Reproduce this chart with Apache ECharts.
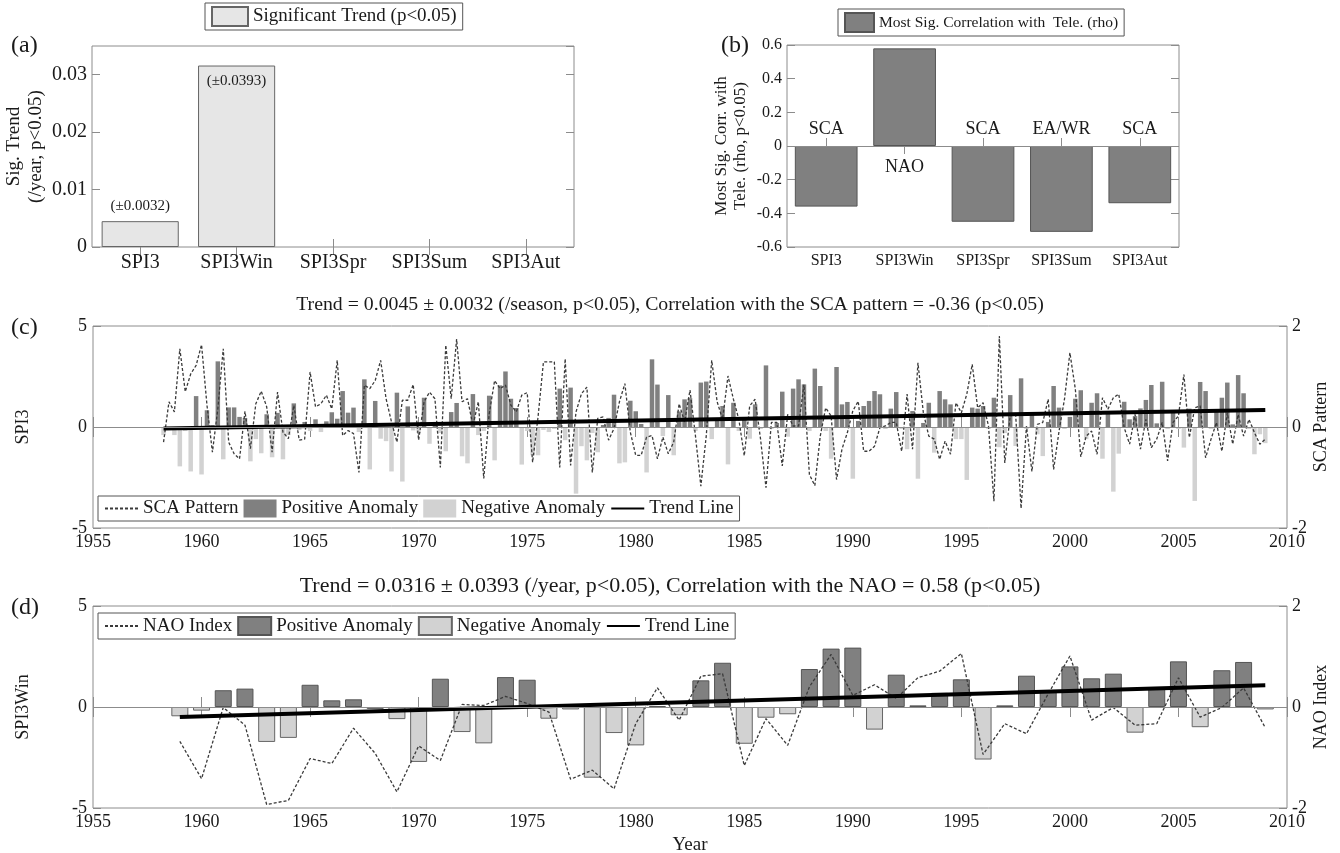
<!DOCTYPE html>
<html>
<head>
<meta charset="utf-8">
<script src="https://cdn.jsdelivr.net/npm/echarts@6.0.0/dist/echarts.min.js"></script>
<style>
  html, body { margin: 0; padding: 0; background: #fff; }
  #chart { width: 1340px; height: 853px; }
</style>
</head>
<body>
<div id="chart"></div>
<script>
// panel (a) / (b)
const indexNames = ['SPI3', 'SPI3Win', 'SPI3Spr', 'SPI3Sum', 'SPI3Aut'];
const sigTrend = [0.0045, 0.0316, null, null, null];
const trendErr = ['(±0.0032)', '(±0.0393)', '', '', ''];
const teleCorr = [-0.36, 0.58, -0.45, -0.51, -0.34];
const teleNames = ['SCA', 'NAO', 'SCA', 'EA/WR', 'SCA'];

// panel (c): seasonal SPI3, 1958.25 .. 2009.0
const seasonSpi3 = [
  -0.4, -0.1, -0.4, -1.95, -0.2, -2.2, 1.53, -2.35, 0.83, 0.1, 3.25, -1.6, 0.97, 0.97, 0.5, 0.45, -1.7,
  -0.6, -1.3, 0.63, -1.5, 0.7, -1.6, -0.4, 1.17, -0.15, 0.25, -0.2, 0.38, -0.25, 0.28, 0.73, 0.41, 1.78,
  0.71, 0.96, -0.25, 2.36, -2.1, 1.29, -0.58, -0.7, -2.2, 1.7, -2.7, 1.02, -0.17, -0.3, 1.45, -0.83, 0.25,
  -0.3, -1.2, 0.74, 1.19, -1.45, -1.8, 1.63, -0.4, -0.2, 1.55, -1.65, 2.06, 2.75, 1.4, 0.94, -1.86, -0.2,
  -1.4, -1.4, -0.15, -0.25, -0.1, 1.9, -0.65, 1.95, -3.3, -0.95, -1.65, -0.3, -1.25, 0.1, 0.45, 1.6, -1.8,
  -1.75, 1.3, 0.78, 0.15, -2.25, 3.35, 2.1, -0.45, 1.58, -1.4, 0.77, 1.37, 1.43, -0.2, 2.2, 2.25, -0.6, 0.3,
  1.04, -1.85, 1.2, -0.2, 0.46, -0.58, 1.12, -0.1, 3.05, -0.1, 0.2, 1.75, -0.48, 1.9, 2.36, 2.11, -0.2,
  2.89, 2.03, -0.2, -1.57, 2.97, 1.12, 1.24, -2.56, 0.3, 1.04, 1.29, 1.78, 1.62, -0.1, 0.91, 1.73, -0.1,
  -1.1, 0.79, -2.56, 0.2, 1.2, -1.27, 1.78, 1.37, 1.12, -0.6, -0.6, -2.62, 0.96, 0.91, 1.04, -0.1,
  1.45, -1.0, -0.3, 1.58, -0.94, 2.41, -0.1, 0.71, -0.36, -1.44, 0.25, 2.03, 0.96, -0.1, 0.5, 1.4, 1.82,
  -0.6, 1.2, 1.67, -1.57, 0.71, -3.2, -1.32, 1.25, 0.38, 0.54, 0.92, 1.34, 2.08, 0.18, 2.24, -0.1, 0.84,
  -0.1, -1.02, 0.91, -3.66, 2.23, 1.78, -0.1, 0.87, 1.45, 2.2, 0.13, 2.57, 1.67, -0.1, -1.35, -0.36, -0.8
];
const seasonSca = [
  -0.3, 0.5, 0.3, 1.55, 0.7, 1.05, 1.22, 1.63, 0.43, -0.5, 0.36, 1.55, -0.3, -0.53, -0.63, 0.31, -0.43,
  0.46, 0.71, 0.4, -0.5, 0.69, -0.1, -0.23, 0.43, -0.26, -0.24, 1.09, 0.4, 0.46, 0.63, 0.36, 1.32, -0.17,
  -0.07, -0.13, -0.9, 0.83, 0.76, 0.92, 1.32, 0.56, 0.1, -0.3, 0.53, 0.53, 0.84, -0.26, 0.5, 0.69, 0.56,
  -0.8, 1.62, 0.56, 1.74, 0.5, 0.56, 0.03, 0.5, -1.02, 0.26, 0.92, 0.76, 0.83, 0.43, 0.3, 0.63, 0.68,
  -0.7, 0.2, 1.29, 1.29, 1.29, -0.8, 1.35, -0.76, 0.3, 0.66, 0.79, -0.9, 0.17, 0.2, -0.26, -0.03, 0.5,
  0.86, -0.1, -0.56, -0.56, -0.2, -0.17, -0.63, -0.2, -0.53, -0.3, 0.46, 0.1, 0.73, -0.17, -1.17, -0.17, 1.32, 0.5,
  0.15, 1.01, 0.55, 0.15, -0.57, 0.42, 0.55, -0.24, -1.2, 0.09, 0.09, -0.77, 0.25, 0.02, 0.02, 0.84, -0.94,
  -1.16, -0.18, 0.38, 0.22, -1.04, -0.44, -0.11, 0.32, 0.51, -0.48, -0.48, -0.38, -0.01, 0.02, 0.09, 0.09,
  -0.48, 0.65, -0.44, 1.27, 0.28, -0.18, -0.24, -0.64, -0.28, -0.54, 0.48, 0.28, 0.65, 1.24, 0.38, 0.48, 0.02,
  -1.47, 1.8, -0.71, 0.22, 0.25, -1.61, 0.02, -0.88, 0.05, 0.09, 0.55, -0.84, -0.08, 0.55, 1.47, 0.75, -0.59,
  -0.18, -0.08, -0.54, 0.58, 0.35, 0.58, 0.65, -0.01, -0.34, 0.25, -0.44, 0.15, -0.41, -0.24, 0.09, -0.67,
  0.09, 0.22, 1.04, -0.21, 0.38, 0.42, -0.61, -0.24, 0.09, -0.48, 0.28, -0.34, 0.25, -0.18, 0.15, -0.11, -0.34, -0.24
];
const seasonTrend = [-0.08, 0.84];   // trend line value at first / last season

// panel (d): winter SPI3, 1959 .. 2009
const winSpi3 = [
  -0.46, -0.18, 0.83, 0.91, -1.73, -1.53, 1.1, 0.33, 0.38, -0.1,
  -0.6, -2.72, 1.4, -1.24, -1.8, 1.48, 1.35, -0.58, -0.12, -3.5,
  -1.29, -1.9, 0.05, -0.41, 1.32, 2.19, -1.82, -0.53, -0.36, 1.88,
  2.89, 2.94, -1.12, 1.6, 0.08, 0.7, 1.37, -2.6, 0.08, 1.55,
  0.75, 2.01, 1.42, 1.65, -1.27, 0.9, 2.26, -1.0, 1.82, 2.23, -0.12
];
const winNao = [
  -0.68, -1.42, -0.01, -0.36, -1.93, -1.85, -1.02, -1.12, -0.42, -0.92,
  -1.68, -0.77, -1.06, 0.05, 0.03, 0.21, 0.07, -0.1, -1.43, -1.25,
  -1.62, -0.33, 0.38, -0.26, 0.61, 0.66, -1.16, -0.23, -0.76, 0.4,
  1.04, 0.23, 0.44, 0.17, 0.58, 0.71, 1.06, -0.94, -0.33, -0.53,
  0.26, 1.01, -0.26, -0.01, -0.36, -0.33, 0.58, -0.2, -0.01, 0.38, -0.41
];
const winTrend = [-0.5, 1.08];

const seasonTime = seasonSpi3.map((_, i) => 1958 + (i + 1) / 4);
const winYears = winSpi3.map((_, i) => 1959 + i);

const font = "'Liberation Serif', 'Times New Roman', serif";
const ink = '#1a1a1a';
const frame = '#8c8c8c';
const noDot = { color: 'rgba(0,0,0,0)', borderColor: 'rgba(0,0,0,0)', borderWidth: 0 };
// panel (d) series ids carry a "(d)" suffix so their legend icons stay separate from (c)
const D = ' (d)';

function pairs(xs, ys) { return ys.map((v, i) => [xs[i], v]); }
function ends(xs, vals) { return [[xs[0], vals[0]], [xs[xs.length - 1], vals[1]]]; }

function ticks(len) {
  return { show: true, inside: true, length: len, lineStyle: { color: frame, width: 1 } };
}
function labels(size, extra) {
  return Object.assign({ fontFamily: font, fontSize: size, color: ink }, extra || {});
}
function nameStyle(size, lh) {
  return { fontFamily: font, fontSize: size, color: ink, lineHeight: lh || size + 2 };
}
function heading(text, left, top, size) {
  return { text: text, left: left, top: top,
    textStyle: { fontFamily: font, fontSize: size, fontWeight: 'normal', color: ink } };
}
function box(left, top, width, height) {
  return { left: left, top: top, width: width, height: height, show: true,
    borderColor: frame, borderWidth: 1, outerBoundsMode: 'none', containLabel: false };
}

// category axes for (a)/(b), bottom + top
function catAxes(grid, size) {
  return [
    { gridIndex: grid, type: 'category', data: indexNames, axisLine: { show: false },
      axisTick: Object.assign(ticks(8), { alignWithLabel: true }),
      axisLabel: labels(size, { margin: 6, interval: 0 }) },
    { gridIndex: grid, type: 'category', data: indexNames, position: 'top', axisLine: { show: false },
      axisTick: Object.assign(ticks(8), { alignWithLabel: true, interval: 0 }), axisLabel: { show: false } }
  ];
}
// year axes for (c)/(d), bottom + top
function yearAxes(grid, name) {
  return [
    { gridIndex: grid, type: 'value', min: 1955, max: 2010, interval: 5, axisLine: { show: false },
      splitLine: { show: false }, axisTick: ticks(10),
      axisLabel: labels(18, { margin: 5, formatter: v => String(v) }),
      name: name || '', nameLocation: 'middle', nameGap: 27, nameTextStyle: nameStyle(19) },
    { gridIndex: grid, type: 'value', min: 1955, max: 2010, interval: 5, position: 'top',
      axisLine: { show: false }, splitLine: { show: false }, axisTick: ticks(10), axisLabel: { show: false } }
  ];
}
function valAxis(grid, pos, min, max, step, opts) {
  const ax = { gridIndex: grid, type: 'value', position: pos, min: min, max: max, interval: step,
    axisLine: { show: false }, splitLine: { show: false }, axisTick: ticks(8) };
  return Object.assign(ax, opts || {});
}
function legendBox(left, top, size, iw, ih, gap, data) {
  return { left: left, top: top, selectedMode: false, backgroundColor: '#fff',
    borderColor: '#555', borderWidth: 1, padding: [3, 6, 3, 6], itemWidth: iw, itemHeight: ih, itemGap: gap,
    textStyle: labels(size), data: data, formatter: n => n.replace(D, '') };
}

const zeroLine = {
  silent: true, symbol: 'none', label: { show: false },
  lineStyle: { color: '#8c8c8c', width: 1, type: 'solid' },
  data: [{ yAxis: 0 }]
};

const chart = echarts.init(document.getElementById('chart'));
chart.setOption({
  animation: false,
  backgroundColor: '#fff',
  title: [
    heading('(a)', 6, 29, 24),
    heading('(b)', 716, 29, 24),
    heading('(c)', 6, 311, 24),
    heading('(d)', 6, 591, 24),
    heading('Trend = 0.0045 ± 0.0032 (/season, p<0.05), Correlation with the SCA pattern = -0.36 (p<0.05)',
      'center', 290, 19.8),
    heading('Trend = 0.0316 ± 0.0393 (/year, p<0.05), Correlation with the NAO = 0.58 (p<0.05)',
      'center', 570, 22)
  ],
  legend: [
    legendBox(205, 3, 19, 36, 19, 8, [{ name: 'Significant Trend (p<0.05)', icon: 'rect' }]),
    legendBox(838, 9, 15.5, 29, 19, 8, [{ name: 'Most Sig. Correlation with  Tele. (rho)', icon: 'rect' }]),
    legendBox(98, 496, 19, 33, 18, 5, [
      { name: 'SCA Pattern', itemStyle: noDot }, { name: 'Positive Anomaly', icon: 'rect' },
      { name: 'Negative Anomaly', icon: 'rect' }, { name: 'Trend Line', itemStyle: noDot }]),
    legendBox(98, 613, 19, 33, 18, 5, [
      { name: 'NAO Index', itemStyle: noDot }, { name: 'Positive Anomaly' + D, icon: 'rect' },
      { name: 'Negative Anomaly' + D, icon: 'rect' }, { name: 'Trend Line' + D, itemStyle: noDot }])
  ],
  grid: [
    box(92, 46, 482, 201),
    box(787, 45, 392, 202),
    box(93, 326, 1194, 202),
    box(93, 606, 1194, 202)
  ],
  xAxis: [].concat(catAxes(0, 20), catAxes(1, 16), yearAxes(2), yearAxes(3, 'Year')),
  yAxis: [
    valAxis(0, 'left', 0, 0.035, 0.01, {
      axisLabel: labels(20, { margin: 5, showMaxLabel: false }),
      name: 'Sig. Trend\n(/year, p<0.05)', nameLocation: 'middle', nameRotate: 90, nameGap: 45,
      nameTextStyle: nameStyle(19, 22) }),
    valAxis(0, 'right', 0, 0.035, 0.01, { axisLabel: { show: false } }),
    valAxis(1, 'left', -0.6, 0.6, 0.2, {
      axisLabel: labels(16, { margin: 5 }),
      name: 'Most Sig. Corr. with\nTele. (rho, p<0.05)', nameLocation: 'middle', nameRotate: 90, nameGap: 37,
      nameTextStyle: nameStyle(17, 19) }),
    valAxis(1, 'right', -0.6, 0.6, 0.2, { axisLabel: { show: false } }),
    valAxis(2, 'left', -5, 5, 5, {
      axisLabel: labels(18, { margin: 6 }), name: 'SPI3', nameLocation: 'middle', nameRotate: 90,
      nameGap: 60, nameTextStyle: nameStyle(18) }),
    valAxis(2, 'right', -2, 2, 2, {
      axisLabel: labels(18, { margin: 5 }), name: 'SCA Pattern', nameLocation: 'middle', nameRotate: 90,
      nameGap: 24, nameMoveOverlap: false, nameTextStyle: nameStyle(18) }),
    valAxis(3, 'left', -5, 5, 5, {
      axisLabel: labels(18, { margin: 6 }), name: 'SPI3Win', nameLocation: 'middle', nameRotate: 90,
      nameGap: 60, nameTextStyle: nameStyle(18) }),
    valAxis(3, 'right', -2, 2, 2, {
      axisLabel: labels(18, { margin: 5 }), name: 'NAO Index', nameLocation: 'middle', nameRotate: 90,
      nameGap: 24, nameMoveOverlap: false, nameTextStyle: nameStyle(18) })
  ],
  series: [
    // (a)
    { name: 'Significant Trend (p<0.05)', type: 'bar', xAxisIndex: 0, yAxisIndex: 0, barWidth: '80%',
      itemStyle: { color: '#e6e6e6', borderColor: '#666', borderWidth: 1 },
      data: sigTrend.map((v, i) => ({ value: v, label: {
        show: trendErr[i] !== '', formatter: trendErr[i], position: i === 1 ? 'insideTop' : 'top',
        distance: 8, fontFamily: font, fontSize: 15, color: ink } })) },
    // (b)
    { name: 'Most Sig. Correlation with  Tele. (rho)', type: 'bar', xAxisIndex: 2, yAxisIndex: 2, barWidth: '80%',
      itemStyle: { color: '#808080', borderColor: '#555', borderWidth: 1 },
      markLine: zeroLine,
      data: teleCorr.map((v, i) => ({ value: v, label: {
        show: true, formatter: teleNames[i], position: v < 0 ? 'top' : 'bottom',
        distance: v < 0 ? 8 : 12, fontFamily: font, fontSize: 18, color: ink } })) },
    // (c)
    { name: 'Positive Anomaly', type: 'bar', xAxisIndex: 4, yAxisIndex: 4, barWidth: 4.5, barGap: '-100%',
      itemStyle: { color: '#808080' }, markLine: zeroLine,
      data: pairs(seasonTime, seasonSpi3).filter(d => d[1] > 0) },
    { name: 'Negative Anomaly', type: 'bar', xAxisIndex: 4, yAxisIndex: 4, barWidth: 4.5, barGap: '-100%',
      itemStyle: { color: '#d2d2d2' },
      data: pairs(seasonTime, seasonSpi3).filter(d => d[1] < 0) },
    { name: 'SCA Pattern', type: 'line', xAxisIndex: 4, yAxisIndex: 5, symbol: 'none', itemStyle: noDot,
      lineStyle: { color: '#3a3a3a', width: 1.3, type: [3, 2] },
      data: pairs(seasonTime, seasonSca) },
    { name: 'Trend Line', type: 'line', xAxisIndex: 4, yAxisIndex: 4, symbol: 'none', itemStyle: noDot,
      lineStyle: { color: '#000', width: 4 }, data: ends(seasonTime, seasonTrend) },
    // (d)
    { name: 'Positive Anomaly' + D, type: 'bar', xAxisIndex: 6, yAxisIndex: 6, barWidth: 17, barGap: '-100%',
      itemStyle: { color: '#808080', borderColor: '#555', borderWidth: 1 }, markLine: zeroLine,
      data: pairs(winYears, winSpi3).filter(d => d[1] > 0) },
    { name: 'Negative Anomaly' + D, type: 'bar', xAxisIndex: 6, yAxisIndex: 6, barWidth: 17, barGap: '-100%',
      itemStyle: { color: '#d2d2d2', borderColor: '#666', borderWidth: 1 },
      data: pairs(winYears, winSpi3).filter(d => d[1] < 0) },
    { name: 'NAO Index', type: 'line', xAxisIndex: 6, yAxisIndex: 7, symbol: 'none', itemStyle: noDot,
      lineStyle: { color: '#3a3a3a', width: 1.3, type: [3, 2] },
      data: pairs(winYears, winNao) },
    { name: 'Trend Line' + D, type: 'line', xAxisIndex: 6, yAxisIndex: 6, symbol: 'none', itemStyle: noDot,
      lineStyle: { color: '#000', width: 4 }, data: ends(winYears, winTrend) }
  ]
});
</script>
</body>
</html>
